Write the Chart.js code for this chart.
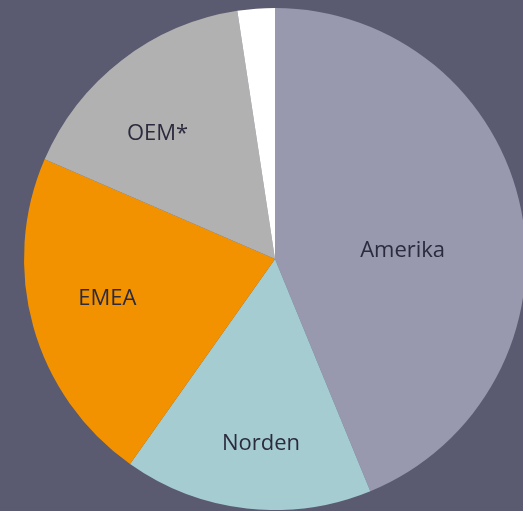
<!DOCTYPE html>
<html>
<head>
<meta charset="utf-8">
<script src="https://cdn.jsdelivr.net/npm/chart.js@4"></script>
<style>
	html, body { margin: 0; padding: 0; background: #5a5a70; overflow: hidden; width: 523px; height: 511px; }
	#wrap { position: absolute; left: 0; top: 8px; width: 550px; height: 502px; }
</style>
</head>
<body>
<div id="wrap"><canvas id="chart"></canvas></div>
<script>
/* global Chart */
const labels = ['Amerika', 'Norden', 'EMEA', 'OEM*', ''];
const shares = [43.8, 16.0, 21.7, 16.1, 2.4];
const sliceColors = ['#9898ae', '#a5ccd0', '#f39200', '#b1b1b1', '#ffffff'];

// Label placement: angle from top (deg) and distance as part of radius
const labelSpots = [[85.5, 0.51], [184.4, 0.73], [257.3, 0.685], [317.3, 0.69], null];

const sliceLabels = {
	id: 'sliceLabels',
	afterDatasetsDraw(chart) {
		const ctx = chart.ctx;
		const arcs = chart.getDatasetMeta(0).data;
		ctx.save();
		ctx.font = '22px "Open Sans", Lato, sans-serif';
		ctx.fillStyle = '#2b2b3d';
		ctx.textAlign = 'center';
		ctx.textBaseline = 'middle';
		arcs.forEach((arc, i) => {
			const spot = labelSpots[i];
			if (!spot || !labels[i]) return;
			const a = spot[0] * Math.PI / 180;
			const r = arc.outerRadius * spot[1];
			ctx.fillText(labels[i], arc.x + r * Math.sin(a), arc.y - r * Math.cos(a) + 2);
		});
		ctx.restore();
	}
};

const canvas = document.getElementById('chart');
new Chart(canvas, {
	type: 'pie',
	data: {
		labels: labels,
		datasets: [{
			data: shares,
			backgroundColor: sliceColors,
			borderWidth: 0
		}]
	},
	options: {
		responsive: true,
		maintainAspectRatio: false,
		animation: false,
		layout: { padding: 0 },
		plugins: {
			legend: { display: false },
			tooltip: { enabled: false }
		}
	},
	plugins: [sliceLabels]
});
</script>
</body>
</html>
